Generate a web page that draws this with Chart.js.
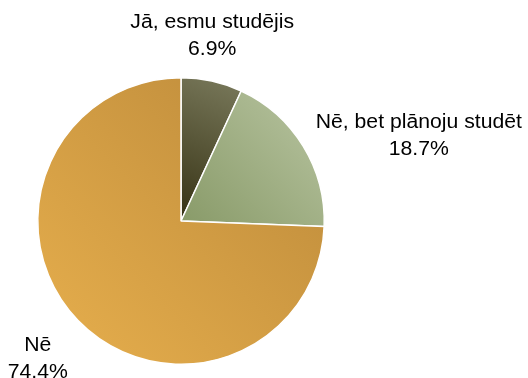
<!DOCTYPE html>
<html>
<head>
<meta charset="utf-8">
<style>
  html, body { margin: 0; padding: 0; background: #ffffff; }
  #wrap { width: 528px; height: 378px; position: relative; }
</style>
<script src="https://cdn.jsdelivr.net/npm/chart.js@4/dist/chart.umd.min.js"></script>
</head>
<body>
<div id="wrap"><canvas id="c" width="528" height="378"></canvas></div>
<script>
// Survey answers and their shares (percent)
const categories = ['Jā, esmu studējis', 'Nē, bet plānoju studēt', 'Nē'];
const shares = [6.9, 18.7, 74.4];
// Gradient stops per slice: [upper-right colour, lower-left colour]
const sliceShades = [
  ['#7a7a5c', '#363214'],
  ['#b9c5a2', '#889a68'],
  ['#bb893a', '#e7af4d']
];
// Label placement: offsets from pie centre in units of the radius
const labelSpots = [
  [0.218, -1.29],
  [1.66, -0.596],
  [-1.0, 0.96]
];

const total = shares.reduce((a, b) => a + b, 0);

function sliceGradient(ctx) {
  const chart = ctx.chart;
  const area = chart.chartArea;
  if (!area) return sliceShades[ctx.dataIndex][0];
  const cx = (area.left + area.right) / 2;
  const cy = (area.top + area.bottom) / 2;
  const r = Math.min(area.right - area.left, area.bottom - area.top) / 2;
  let start = 0;
  for (let i = 0; i < ctx.dataIndex; i++) start += shares[i] / total;
  const end = start + shares[ctx.dataIndex] / total;
  // bounding box of the slice (centre plus points along the arc)
  let minX = cx, maxX = cx, minY = cy, maxY = cy;
  for (let k = 0; k <= 60; k++) {
    const a = (start + (end - start) * k / 60) * Math.PI * 2 - Math.PI / 2;
    const x = cx + r * Math.cos(a), y = cy + r * Math.sin(a);
    minX = Math.min(minX, x); maxX = Math.max(maxX, x);
    minY = Math.min(minY, y); maxY = Math.max(maxY, y);
  }
  const g = chart.ctx.createLinearGradient(maxX, minY, minX, maxY);
  g.addColorStop(0, sliceShades[ctx.dataIndex][0]);
  g.addColorStop(1, sliceShades[ctx.dataIndex][1]);
  return g;
}

const outsideLabels = {
  id: 'outsideLabels',
  afterDatasetsDraw(chart) {
    const meta = chart.getDatasetMeta(0);
    const c = chart.ctx;
    c.save();
    c.fillStyle = '#000000';
    c.font = '20px "Liberation Sans", Arial, sans-serif';
    c.textAlign = 'center';
    c.textBaseline = 'middle';
    meta.data.forEach((arc, i) => {
      const r = arc.outerRadius;
      const x = arc.x + labelSpots[i][0] * r;
      const y = arc.y + labelSpots[i][1] * r;
      c.save();
      c.translate(x, y);
      c.scale(1.06, 1);
      c.fillText(categories[i], 0, -13.5);
      c.fillText(shares[i].toFixed(1) + '%', 0, 13.5);
      c.restore();
    });
    c.restore();
  }
};

new Chart(document.getElementById('c'), {
  type: 'pie',
  data: {
    labels: categories,
    datasets: [{
      data: shares,
      backgroundColor: sliceGradient,
      borderColor: '#ffffff',
      borderWidth: 1.5
    }]
  },
  options: {
    responsive: false,
    animation: false,
    events: [],
    layout: { padding: { left: 37, right: 203, top: 77, bottom: 13 } },
    plugins: {
      legend: { display: false },
      tooltip: { enabled: false }
    }
  },
  plugins: [outsideLabels]
});
</script>
</body>
</html>
